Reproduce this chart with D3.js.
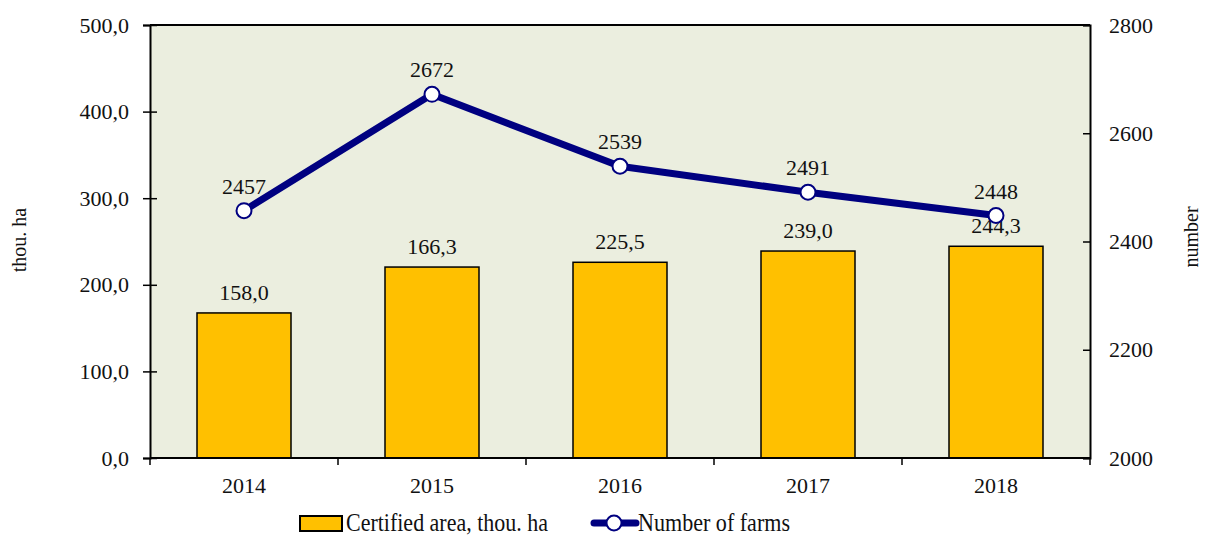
<!DOCTYPE html>
<html>
<head>
<meta charset="utf-8">
<script src="https://cdn.jsdelivr.net/npm/d3@7/dist/d3.min.js"></script>
<style>
  body { margin: 0; background: #fff; }
  svg text { font-family: "Liberation Serif", serif; fill: #111; }
</style>
</head>
<body>
<svg id="chart"></svg>
<script>
let w = 1207
let h = 536

// data
let years = ["2014", "2015", "2016", "2017", "2018"]
let areaValues = [167.5, 220.5, 226, 239, 244.5]   // bar heights as drawn
let areaLabels = ["158,0", "166,3", "225,5", "239,0", "244,3"]
let farms = [2457, 2672, 2539, 2491, 2448]
let leftTicks = [0, 100, 200, 300, 400, 500]
let rightTicks = [2000, 2200, 2400, 2600, 2800]

let plotL = 150, plotR = 1090, plotT = 25, plotB = 458
let navy = "#000080"
let gold = "#FFC000"

let svg = d3.select('#chart')
  .attr('width', w)
  .attr('height', h)

let x = d3.scaleBand().domain(years).range([plotL, plotR]).padding(0)
let yL = d3.scaleLinear().domain([0, 500]).range([plotB, plotT])
let yR = d3.scaleLinear().domain([2000, 2800]).range([plotB, plotT])
let bw = x.bandwidth()

// plot area
svg.append('rect')
  .attr('x', plotL).attr('y', plotT)
  .attr('width', plotR - plotL).attr('height', plotB - plotT)
  .attr('fill', '#EBEEDF')

svg.append('line')
  .attr('x1', plotL).attr('x2', plotR)
  .attr('y1', plotT).attr('y2', plotT)
  .attr('stroke', '#000').attr('stroke-width', 2)

// bars
svg.selectAll('.bar')
  .data(areaValues)
  .join('rect')
  .attr('class', 'bar')
  .attr('x', (d, i) => x(years[i]) + bw / 4)
  .attr('y', d => yL(d))
  .attr('width', bw / 2)
  .attr('height', d => plotB - yL(d))
  .attr('fill', gold)
  .attr('stroke', '#000')
  .attr('stroke-width', 1.5)

svg.selectAll('.barLabel')
  .data(areaValues)
  .join('text')
  .attr('class', 'barLabel')
  .attr('x', (d, i) => x(years[i]) + bw / 2)
  .attr('y', d => yL(d) - 13)
  .attr('text-anchor', 'middle')
  .attr('font-size', 22)
  .text((d, i) => areaLabels[i])

// axes
let axL = svg.append('g')
  .attr('transform', 'translate(' + plotL + ',0)')
  .call(d3.axisLeft(yL).tickValues(leftTicks).tickSize(7).tickPadding(14)
    .tickFormat(d => d3.format('.1f')(d).replace('.', ',')))
axL.selectAll('.tick line').attr('x1', 7)

let axR = svg.append('g')
  .attr('transform', 'translate(' + plotR + ',0)')
  .call(d3.axisRight(yR).tickValues(rightTicks).tickSize(-7).tickPadding(19)
    .tickFormat(d3.format('d')))

let axB = svg.append('g')
  .attr('transform', 'translate(0,' + plotB + ')')
axB.append('line')
  .attr('x1', plotL).attr('x2', plotR)
  .attr('stroke', '#000').attr('stroke-width', 2)
axB.selectAll('.xtick')
  .data(years.map(d => x(d)).concat([x(years[years.length - 1]) + bw]))
  .join('line')
  .attr('class', 'xtick')
  .attr('x1', d => d).attr('x2', d => d)
  .attr('y1', 0).attr('y2', 7)
  .attr('stroke', '#000').attr('stroke-width', 1.5)
axB.selectAll('.xlabel')
  .data(years)
  .join('text')
  .attr('class', 'xlabel')
  .attr('x', d => x(d) + bw / 2)
  .attr('y', 35)
  .attr('text-anchor', 'middle')
  .attr('font-size', 22)
  .text(d => d)

;[axL, axR].forEach(a => {
  a.select('.domain').attr('stroke', '#000').attr('stroke-width', 2)
  a.selectAll('.tick line').attr('stroke', '#000').attr('stroke-width', 1.5)
  a.selectAll('.tick text')
    .attr('font-size', 22)
    .style('font-family', '"Liberation Serif", serif')
    .attr('fill', '#111')
})

// line series
let line = d3.line()
  .x((d, i) => x(years[i]) + bw / 2)
  .y(d => yR(d))

svg.append('path')
  .datum(farms)
  .attr('d', line)
  .attr('fill', 'none')
  .attr('stroke', navy)
  .attr('stroke-width', 7)
  .attr('stroke-linejoin', 'round')

svg.selectAll('.dot')
  .data(farms)
  .join('circle')
  .attr('class', 'dot')
  .attr('cx', (d, i) => x(years[i]) + bw / 2)
  .attr('cy', d => yR(d))
  .attr('r', 7.5)
  .attr('fill', '#fff')
  .attr('stroke', navy)
  .attr('stroke-width', 2)

svg.selectAll('.dotLabel')
  .data(farms)
  .join('text')
  .attr('class', 'dotLabel')
  .attr('x', (d, i) => x(years[i]) + bw / 2)
  .attr('y', d => yR(d) - 17)
  .attr('text-anchor', 'middle')
  .attr('font-size', 22)
  .text(d => d)

// axis titles
svg.append('text')
  .attr('transform', 'translate(26,240) rotate(-90)')
  .attr('text-anchor', 'middle')
  .attr('font-size', 20)
  .text('thou. ha')

svg.append('text')
  .attr('transform', 'translate(1198,237) rotate(-90)')
  .attr('text-anchor', 'middle')
  .attr('font-size', 20)
  .text('number')

// legend
let lg = svg.append('g')
lg.append('rect')
  .attr('x', 300).attr('y', 516)
  .attr('width', 42).attr('height', 15)
  .attr('fill', gold).attr('stroke', '#000').attr('stroke-width', 2)
lg.append('text')
  .attr('x', 346).attr('y', 531)
  .attr('font-size', 25)
  .attr('textLength', 202)
  .attr('lengthAdjust', 'spacingAndGlyphs')
  .text('Certified area, thou. ha')

lg.append('line')
  .attr('x1', 594).attr('x2', 636)
  .attr('y1', 523).attr('y2', 523)
  .attr('stroke', navy).attr('stroke-width', 7)
  .attr('stroke-linecap', 'round')
lg.append('circle')
  .attr('cx', 614).attr('cy', 523).attr('r', 7.5)
  .attr('fill', '#fff').attr('stroke', navy).attr('stroke-width', 2)
lg.append('text')
  .attr('x', 638).attr('y', 531)
  .attr('font-size', 25)
  .attr('textLength', 152)
  .attr('lengthAdjust', 'spacingAndGlyphs')
  .text('Number of farms')
</script>
</body>
</html>
